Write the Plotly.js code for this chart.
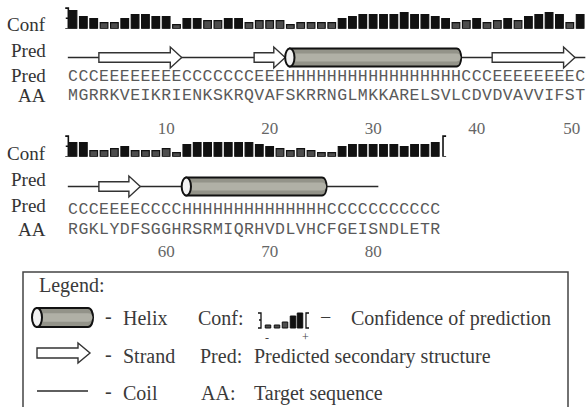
<!DOCTYPE html>
<html><head><meta charset="utf-8">
<script src="https://cdn.plot.ly/plotly-3.0.1.min.js"></script>
<style>html,body{margin:0;padding:0;background:#fff;overflow:hidden}</style>
</head><body><div id="chart" style="width:586px;height:407px"></div>
<script>
// ---------------- data ----------------
const row1Start = 1;
const row2Start = 51;
const aaRow1   = "MGRRKVEIKRIENKSKRQVAFSKRRNGLMKKARELSVLCDVDVAVVIFST";
const aaRow2   = "RGKLYDFSGGHRSRMIQRHVDLVHCFGEISNDLETR";
const predRow1 = "CCCEEEEEEEECCCCCCCEEEHHHHHHHHHHHHHHHHHCCCEEEEEEEEC";
const predRow2 = "CCCEEEECCCCHHHHHHHHHHHHHHCCCCCCCCCCC";
const confRow1 = [9,6,5,3,3,5,7,7,6,6,2,5,5,4,4,5,5,3,4,4,4,2,3,3,3,3,5,6,7,7,7,7,8,7,7,6,5,3,4,5,3,4,5,4,6,7,8,7,3,7];
const confRow2 = [7,7,3,3,4,5,3,3,3,4,2,6,7,7,7,7,7,7,6,5,4,3,4,3,2,2,5,6,6,6,6,6,5,6,6,7];
const coilEndRow2 = 80;
const tickRow1 = [10,20,30,40,50];
const tickRow2 = [60,70,80];
const legendConf = [1,1,3,7,9];

// ---------------- layout constants (pixels) ----------------
const W = 586, H = 407;
const firstResPx = 73, resPx = 10.35;
const rows = [
  {start:row1Start, aa:aaRow1, pred:predRow1, conf:confRow1, xa:'x',  ya:'y',  confBase:28.7,  gy:57.5,  predY:77,    aaY:95.5,  tickY:130, ticks:tickRow1, coilEnd:row1Start+aaRow1.length-1,
   lab:[24,50,75,95.5]},
  {start:row2Start, aa:aaRow2, pred:predRow2, conf:confRow2, xa:'x2', ya:'y2', confBase:156.7, gy:186.5, predY:209.5, aaY:229.5, tickY:253, ticks:tickRow2, coilEnd:coilEndRow2,
   lab:[153,179,205,229.5]}
];
const confPxPerUnit = 2, confMax = 10;

function segments(pred, start) {
  const out = []; let i = 0;
  while (i < pred.length) {
    let j = i; while (j + 1 < pred.length && pred[j+1] === pred[i]) j++;
    out.push({type: pred[i], from: start + i, to: start + j});
    i = j + 1;
  }
  return out;
}
function helixPath(xl, xr, yc, h, r) {
  const yt = yc - h/2, yb = yc + h/2, xs = xl + r, xe = xr - r, c = xe + 1.333*r;
  return `M${xs},${yt} L${xe},${yt} C${c},${yt} ${c},${yb} ${xe},${yb} L${xs},${yb} Z`;
}
function bandPath(xl, xr, yc, h, r) {
  const yt = yc - h*0.22, yb = yc + h*0.22, xs = xl + r, xe = xr - r, c = xe + 1.2*r;
  return `M${xs},${yt} L${xe},${yt} C${c},${yt} ${c},${yb} ${xe},${yb} L${xs},${yb} Z`;
}
function arrowPath(xl, xr, yc, sh, hh, hl) {
  const xb = xr - hl;
  return `M${xl},${yc-sh} L${xb},${yc-sh} L${xb},${yc-hh} L${xr},${yc} L${xb},${yc+hh} L${xb},${yc+sh} L${xl},${yc+sh} Z`;
}
function helixShapes(xref, yref, xl, xr, yc, h, r) {
  return [
    {type:'path', xref, yref, path: helixPath(xl, xr, yc, h, r), fillcolor:'#939389', line:{color:'#111', width:2}},
    {type:'path', xref, yref, path: bandPath(xl, xr, yc, h, r), fillcolor:'#b0b0a6', line:{width:0}},
    {type:'circle', xref, yref, x0: xl, x1: xl + 2*r, y0: yc - h/2, y1: yc + h/2, fillcolor:'#f2f2f2', line:{color:'#111', width:2}}
  ];
}

const traces = [], shapes = [], annotations = [];
const serif = "'Liberation Serif', 'Times New Roman', serif";
const mono = "'Courier New', 'Liberation Mono', 'DejaVu Sans Mono', monospace";
const lay = {};

rows.forEach((r, k) => {
  const n = r.aa.length;
  const res = Array.from({length:n}, (_, i) => r.start + i);
  const x0 = r.start - (firstResPx / resPx);
  const xAxisName = k === 0 ? 'xaxis' : 'xaxis2';
  const yAxisName = k === 0 ? 'yaxis' : 'yaxis2';
  lay[xAxisName] = {range:[x0, x0 + W/resPx], domain:[0,1], anchor:r.ya, visible:false, fixedrange:true};
  const d0 = 1 - r.confBase/H, d1 = 1 - (r.confBase - (confMax+1)*confPxPerUnit)/H;
  lay[yAxisName] = {range:[-1, confMax], domain:[d0, d1], anchor:r.xa, visible:false, fixedrange:true};

  // confidence bars
  traces.push({type:'bar', x:res, y:r.conf, base:-1, width:0.74, xaxis:r.xa, yaxis:r.ya,
    marker:{color:r.conf.map(c => c <= 4 ? '#4d4d4d' : '#111'), line:{color:'#111', width:1.2}},
    hoverinfo:'skip', showlegend:false});

  // bracket(s)
  const bl = r.start - 0.45;
  shapes.push({type:'path', xref:r.xa, yref:r.ya, line:{color:'#111', width:1.6},
    path:`M${bl-0.3},9.3 L${bl},9.3 L${bl},-1 L${bl-0.3},-1 M${bl},4.2 L${bl-0.25},4.2`});
  if (k === 1) {
    const br = r.start + n - 1 + 0.75;
    shapes.push({type:'path', xref:r.xa, yref:r.ya, line:{color:'#111', width:1.6},
      path:`M${br+0.3},9.3 L${br},9.3 L${br},-1 L${br+0.3},-1`});
  }

  // coil line
  shapes.push({type:'line', xref:r.xa, yref:'y3', x0:r.start - 0.5, x1:r.coilEnd + 0.5, y0:r.gy, y1:r.gy,
    line:{color:'#2a2a2a', width:1.6}});
  // strands and helices
  segments(r.pred, r.start).forEach(s => {
    if (s.type === 'E') {
      shapes.push({type:'path', xref:r.xa, yref:'y3', path:arrowPath(s.from - 0.5, s.to + 0.5, r.gy, 4.7, 10.5, 1.1),
        fillcolor:'#ffffff', line:{color:'#333', width:1.4}});
    } else if (s.type === 'H') {
      helixShapes(r.xa, 'y3', s.from - 0.5, s.to + 0.5, r.gy, 18, 0.45).forEach(sh => shapes.push(sh));
    }
  });

  // sequence text rows
  traces.push({type:'scatter', mode:'text', x:res, y:res.map(() => r.predY), text:r.pred.split(''),
    xaxis:r.xa, yaxis:'y3', textfont:{family:mono, size:16.5, color:'#5a5a5a'}, hoverinfo:'skip', showlegend:false, cliponaxis:false});
  traces.push({type:'scatter', mode:'text', x:res, y:res.map(() => r.aaY), text:r.aa.split(''),
    xaxis:r.xa, yaxis:'y3', textfont:{family:mono, size:16.5, color:'#5a5a5a'}, hoverinfo:'skip', showlegend:false, cliponaxis:false});
  const lastTick = r.ticks[r.ticks.length - 1];
  traces.push({type:'scatter', mode:'text', x:r.ticks, y:r.ticks.map(() => r.tickY), text:r.ticks.map(String),
    textposition:r.ticks.map(t => (k === 0 && t === lastTick) ? 'middle left' : 'middle center'),
    xaxis:r.xa, yaxis:'y3', textfont:{family:serif, size:17, color:'#666'}, hoverinfo:'skip', showlegend:false, cliponaxis:false});

  // row labels
  ['Conf','Pred','Pred','AA'].forEach((t, i) => annotations.push({xref:'x3', yref:'y3', x:48, y:r.lab[i], text:t,
    xanchor:'right', yanchor:'middle', showarrow:false, font:{family:serif, size:19, color:'#333'}}));
});

lay.xaxis3 = {range:[0, W], domain:[0,1], anchor:'y3', visible:false, fixedrange:true};
lay.yaxis3 = {range:[H, 0], domain:[0,1], anchor:'x3', visible:false, fixedrange:true};

// ---------------- legend box ----------------
shapes.push({type:'rect', xref:'x3', yref:'y3', x0:23, x1:568, y0:272, y1:440, line:{color:'#444', width:1.5}, fillcolor:'rgba(0,0,0,0)'});
helixShapes('x3', 'y3', 32, 93, 317.5, 19, 5).forEach(sh => shapes.push(sh));
shapes.push({type:'path', xref:'x3', yref:'y3', path:arrowPath(37, 90, 353, 5, 10, 12), fillcolor:'#fff', line:{color:'#333', width:1.4}});
shapes.push({type:'line', xref:'x3', yref:'y3', x0:37, x1:88, y0:391, y1:391, line:{color:'#2a2a2a', width:1.6}});
// legend confidence glyph
const legBarX = [268, 277, 285, 293, 300];
traces.push({type:'bar', x:legBarX, y:legendConf.map(c => -(c+1)*1.5), base:328, width:5.5, xaxis:'x3', yaxis:'y3',
  marker:{color:legendConf.map(c => c <= 4 ? '#4d4d4d' : '#111'), line:{color:'#111', width:1}}, hoverinfo:'skip', showlegend:false});
shapes.push({type:'path', xref:'x3', yref:'y3', line:{color:'#111', width:1.3}, path:'M258,313 L261,313 L261,328 L258,328 M261,320 L259,320'});
shapes.push({type:'path', xref:'x3', yref:'y3', line:{color:'#111', width:1.3}, path:'M309,313 L306,313 L306,328 L309,328'});

function legText(x, y, t, size) {
  annotations.push({xref:'x3', yref:'y3', x, y, text:t, xanchor:'left', yanchor:'middle', showarrow:false,
    font:{family:serif, size:size || 20, color:'#3a3a3a'}});
}
legText(37, 285, 'Legend:');
legText(103, 316, '-');  legText(121, 318, 'Helix');
legText(103, 354, '-');  legText(121, 356, 'Strand');
legText(103, 391, '-');  legText(121, 393, 'Coil');
legText(196, 318, 'Conf:');
legText(318, 317, '\u2212');
legText(349, 318, 'Confidence of prediction');
legText(198, 356, 'Pred:');
legText(252, 356, 'Predicted secondary structure');
legText(199, 393, 'AA:');
legText(252, 393, 'Target sequence');
annotations.push({xref:'x3', yref:'y3', x:267, y:338, text:'-', showarrow:false, font:{family:serif, size:12, color:'#444'}});
annotations.push({xref:'x3', yref:'y3', x:305, y:337, text:'+', showarrow:false, font:{family:serif, size:12, color:'#444'}});

const layout = Object.assign({
  width:W, height:H, margin:{l:0, r:0, t:0, b:0, pad:0},
  paper_bgcolor:'#fff', plot_bgcolor:'rgba(0,0,0,0)', showlegend:false,
  shapes, annotations, bargap:0
}, lay);

Plotly.newPlot('chart', traces, layout, {staticPlot:true, displayModeBar:false});
</script>
</body></html>
